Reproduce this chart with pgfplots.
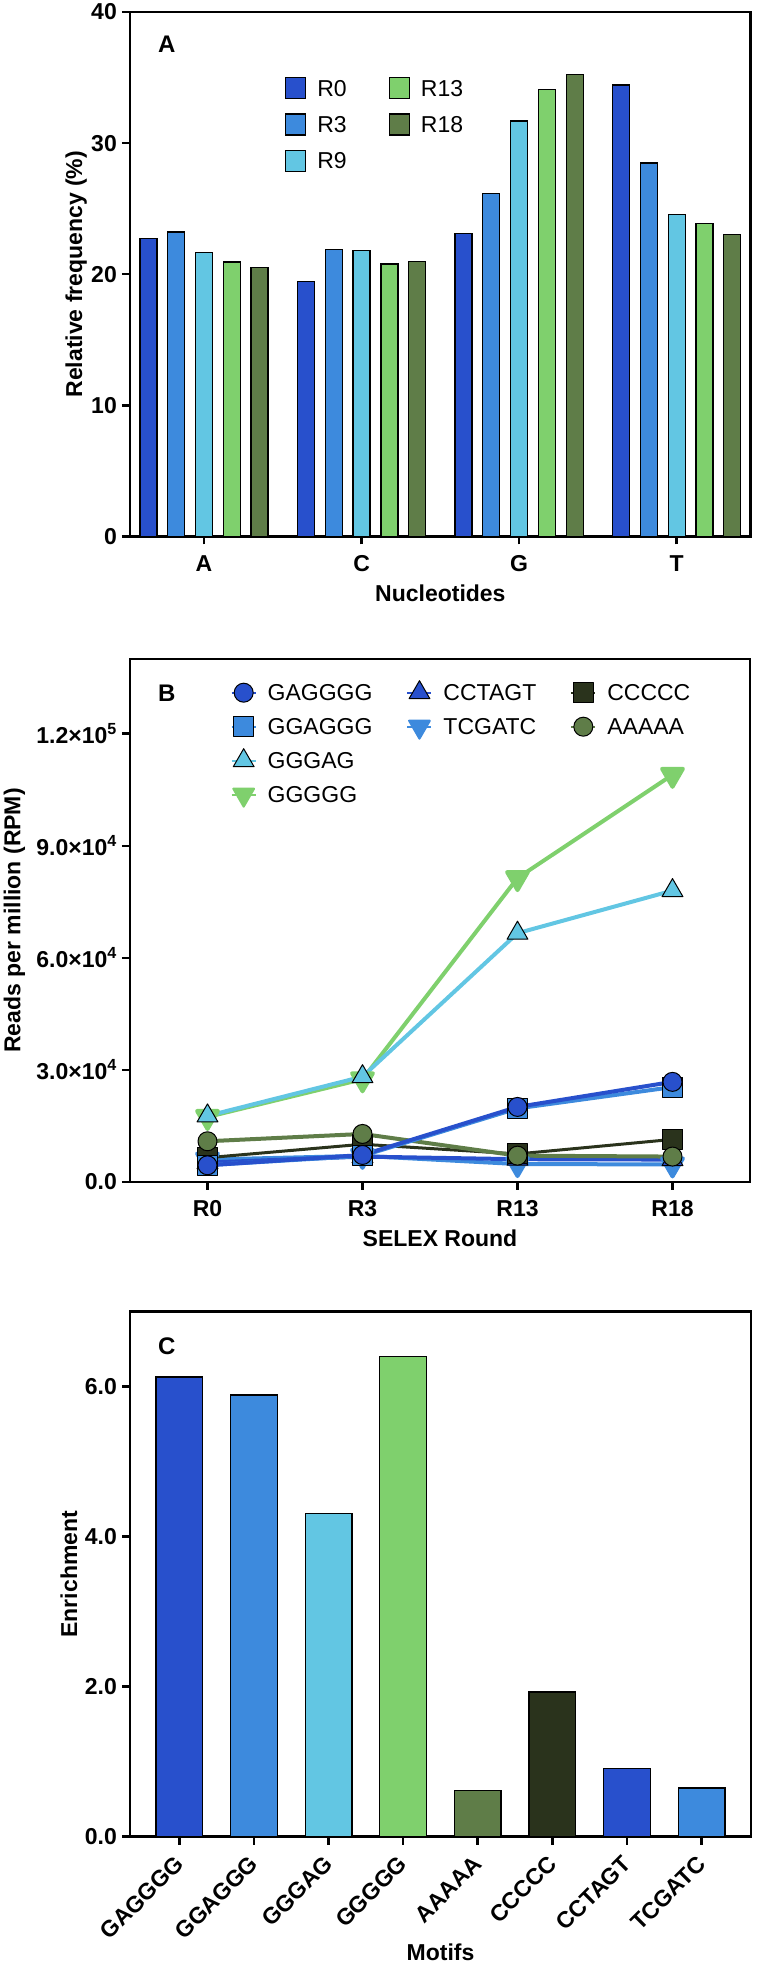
\documentclass[border=0pt]{standalone}
\usepackage{fontspec}
\setmainfont{Liberation Sans}
\usepackage{pgfplots}
\pgfplotsset{compat=1.18}
\definecolor{cR0}{HTML}{2850CC}
\definecolor{cR3}{HTML}{3D8ADD}
\definecolor{cR9}{HTML}{62C6E3}
\definecolor{cR13}{HTML}{7FD06D}
\definecolor{cR18}{HTML}{5F7D48}
\definecolor{cCC}{HTML}{2A331C}
\newcommand{\tickfont}{\fontsize{23}{25}\selectfont\bfseries}
\newcommand{\labfont}{\fontsize{23}{25}\selectfont\bfseries}
\newcommand{\legfont}{\fontsize{23}{25}\selectfont}
\newcommand{\panfont}{\fontsize{24}{26}\selectfont\bfseries}
\pgfplotsset{
  myaxis/.style={
    scale only axis,
    axis line style={line width=2.7pt},
    every tick/.style={black, line width=2.5pt},
    major tick length=8pt,
    tick align=outside,
    xtick pos=bottom, ytick pos=left,
    minor tick num=0,
    tick label style={font=\tickfont, inner sep=0pt},
    yticklabel style={anchor=east, xshift=-5pt},
    xticklabel style={anchor=north, yshift=-10.5pt},
    scaled y ticks=false,
    label style={font=\labfont},
  },
  sqleg/.style={legend image code/.code={\draw[##1] (0pt,-10.5pt) rectangle (20pt,10.5pt);}},
  lnleg/.style={legend image code/.code={\path[draw=none,fill=none] (0pt,-12pt) rectangle (24pt,12pt);
      \draw[mark repeat=2,mark phase=2,##1] plot coordinates {(0pt,0pt) (12pt,0pt) (24pt,0pt)};}},
  barA/.style={draw=black, line width=1.3pt, fill=#1},
  ser/.style n args={3}{color=#1, line width=4pt, line join=round, mark=#2,
      mark size=#3, mark options={draw=black, line width=1pt, fill=#1, solid}},
}
\begin{document}
\begin{tikzpicture}
\path[use as bounding box] (0pt,0pt) rectangle (756pt,1964pt);
% ---------------- Panel A ----------------
\begin{axis}[myaxis,
  at={(130pt,1427.5pt)}, anchor=south west,
  width=620.7pt, height=524.5pt,
  xmin=-0.47, xmax=3.47, ymin=0, ymax=40,
  xtick={0,1,2,3}, xticklabels={A,C,G,T},
  ytick={0,10,20,30,40}, yticklabels={0,10,20,30,40},
  ybar, bar width=17pt,
  xlabel={Nucleotides},
  xlabel style={at={([yshift=-65.5pt]rel axis cs:0.5,0)}, anchor=base},
  ylabel={Relative frequency (\%)},
  ylabel style={at={([xshift=-48pt]rel axis cs:0,0.5)}, anchor=base},
  legend style={draw=none, fill=none, inner sep=0pt, outer sep=0pt,
    at={(0.2497,0.8761)}, anchor=north west, font=\legfont,
    row sep=14pt, column sep=11pt,
    /tikz/every even column/.append style={column sep=42pt},
    nodes={inner sep=0pt, text depth=0pt}},
  legend columns=2, legend cell align=left,
]
\addplot[barA=cR0, bar shift=-55.6pt, forget plot] coordinates {(0,22.75) (1,19.44) (2,23.13) (3,34.43)};
\addplot[barA=cR3, bar shift=-27.8pt, forget plot] coordinates {(0,23.23) (1,21.88) (2,26.14) (3,28.48)};
\addplot[barA=cR9, bar shift=0pt, forget plot] coordinates {(0,21.68) (1,21.80) (2,31.69) (3,24.55)};
\addplot[barA=cR13, bar shift=27.8pt, forget plot] coordinates {(0,20.94) (1,20.79) (2,34.10) (3,23.89)};
\addplot[barA=cR18, bar shift=55.6pt, forget plot] coordinates {(0,20.50) (1,20.97) (2,35.25) (3,23.05)};
\addlegendimage{sqleg, barA=cR0}\addlegendentry{R0}
\addlegendimage{sqleg, barA=cR13}\addlegendentry{R13}
\addlegendimage{sqleg, barA=cR3}\addlegendentry{R3}
\addlegendimage{sqleg, barA=cR18}\addlegendentry{R18}
\addlegendimage{sqleg, barA=cR9}\addlegendentry{R9}
\end{axis}
\node[anchor=north west, inner sep=0pt, font=\panfont] at (158pt,1928pt) {A};
% ---------------- Panel B ----------------
\begin{axis}[myaxis,
  at={(130pt,782pt)}, anchor=south west,
  width=620pt, height=523pt,
  xmin=-0.5, xmax=3.5, ymin=0, ymax=140000,
  xtick={0,1,2,3}, xticklabels={R0,R3,R13,R18},
  ytick={0,30000,60000,90000,120000},
  yticklabels={0.0, 3.0×10\textsuperscript{4}, 6.0×10\textsuperscript{4}, 9.0×10\textsuperscript{4}, 1.2×10\textsuperscript{5}},
  xlabel={SELEX Round},
  xlabel style={at={([yshift=-65pt]rel axis cs:0.5,0)}, anchor=base},
  ylabel={Reads per million (RPM)},
  ylabel style={at={([xshift=-109.5pt]rel axis cs:0,0.5)}, anchor=base},
  legend style={draw=none, fill=none, inner sep=0pt, outer sep=0pt,
    at={(0.1624,0.9585)}, anchor=north west, font=\legfont,
    row sep=10pt, column sep=11pt,
    /tikz/every even column/.append style={column sep=34pt},
    nodes={inner sep=0pt, text depth=0pt}},
  legend columns=3, legend cell align=left,
]
\addplot[ser={cR3}{triangle*}{12pt}, mark options={rotate=180}, forget plot] coordinates {(0,6000) (1,7000) (2,4800) (3,4700)};
\addplot[ser={cR0}{triangle*}{12pt}, forget plot] coordinates {(0,5200) (1,6800) (2,6100) (3,6000)};
\addplot[ser={cCC}{square*}{10pt}, line width=3pt, forget plot] coordinates {(0,6500) (1,10100) (2,7500) (3,11400)};
\addplot[ser={cR18}{*}{9.5pt}, forget plot] coordinates {(0,10900) (1,12860) (2,7050) (3,6800)};
\addplot[ser={cR3}{square*}{10pt}, forget plot] coordinates {(0,4500) (1,7000) (2,19700) (3,25400)};
\addplot[ser={cR0}{*}{9.5pt}, forget plot] coordinates {(0,4470) (1,7230) (2,20090) (3,26800)};
\addplot[ser={cR13}{triangle*}{12pt}, mark options={rotate=180}, forget plot] coordinates {(0,17400) (1,27500) (2,81350) (3,109000)};
\addplot[ser={cR9}{triangle*}{12pt}, forget plot] coordinates {(0,17700) (1,28200) (2,66600) (3,78000)};
\addlegendimage{lnleg, ser={cR0}{*}{9.5pt}, line width=2pt}\addlegendentry{GAGGGG}
\addlegendimage{lnleg, ser={cR0}{triangle*}{12pt}, line width=2pt}\addlegendentry{CCTAGT}
\addlegendimage{lnleg, ser={cCC}{square*}{10pt}, line width=2pt}\addlegendentry{CCCCC}
\addlegendimage{lnleg, ser={cR3}{square*}{10pt}, line width=2pt}\addlegendentry{GGAGGG}
\addlegendimage{lnleg, ser={cR3}{triangle*}{12pt}, mark options={rotate=180}, line width=2pt}\addlegendentry{TCGATC}
\addlegendimage{lnleg, ser={cR18}{*}{9.5pt}, line width=2pt}\addlegendentry{AAAAA}
\addlegendimage{lnleg, ser={cR9}{triangle*}{12pt}, line width=2pt}\addlegendentry{GGGAG}
\addlegendimage{empty legend}\addlegendentry{}
\addlegendimage{empty legend}\addlegendentry{}
\addlegendimage{lnleg, ser={cR13}{triangle*}{12pt}, mark options={rotate=180}, line width=2pt}\addlegendentry{GGGGG}
\addlegendimage{empty legend}\addlegendentry{}
\addlegendimage{empty legend}\addlegendentry{}
\end{axis}
\node[anchor=north west, inner sep=0pt, font=\panfont] at (158pt,1279pt) {B};
% ---------------- Panel C ----------------
\begin{axis}[myaxis,
  at={(130pt,127.3pt)}, anchor=south west,
  width=621pt, height=525pt,
  xmin=-0.661, xmax=7.663, ymin=0, ymax=7,
  xtick={0,1,2,3,4,5,6,7},
  xticklabels={GAGGGG,GGAGGG,GGGAG,GGGGG,AAAAA,CCCCC,CCTAGT,TCGATC},
  xticklabel style={anchor=east, yshift=-4.5pt, rotate=45},
  ytick={0,2,4,6}, yticklabels={0.0,2.0,4.0,6.0},
  ybar, bar width=46.7pt,
  xlabel={Motifs},
  xlabel style={at={([yshift=-123.3pt]rel axis cs:0.5,0)}, anchor=base},
  ylabel={Enrichment},
  ylabel style={at={([xshift=-53pt]rel axis cs:0,0.5)}, anchor=base},
]
\addplot[barA=cR0, bar shift=0pt] coordinates {(0,6.13)};
\addplot[barA=cR3, bar shift=0pt] coordinates {(1,5.89)};
\addplot[barA=cR9, bar shift=0pt] coordinates {(2,4.31)};
\addplot[barA=cR13, bar shift=0pt] coordinates {(3,6.40)};
\addplot[barA=cR18, bar shift=0pt] coordinates {(4,0.62)};
\addplot[barA=cCC, bar shift=0pt] coordinates {(5,1.93)};
\addplot[barA=cR0, bar shift=0pt] coordinates {(6,0.91)};
\addplot[barA=cR3, bar shift=0pt] coordinates {(7,0.65)};
\end{axis}
\node[anchor=north west, inner sep=0pt, font=\panfont] at (158pt,626pt) {C};
\end{tikzpicture}
\end{document}
